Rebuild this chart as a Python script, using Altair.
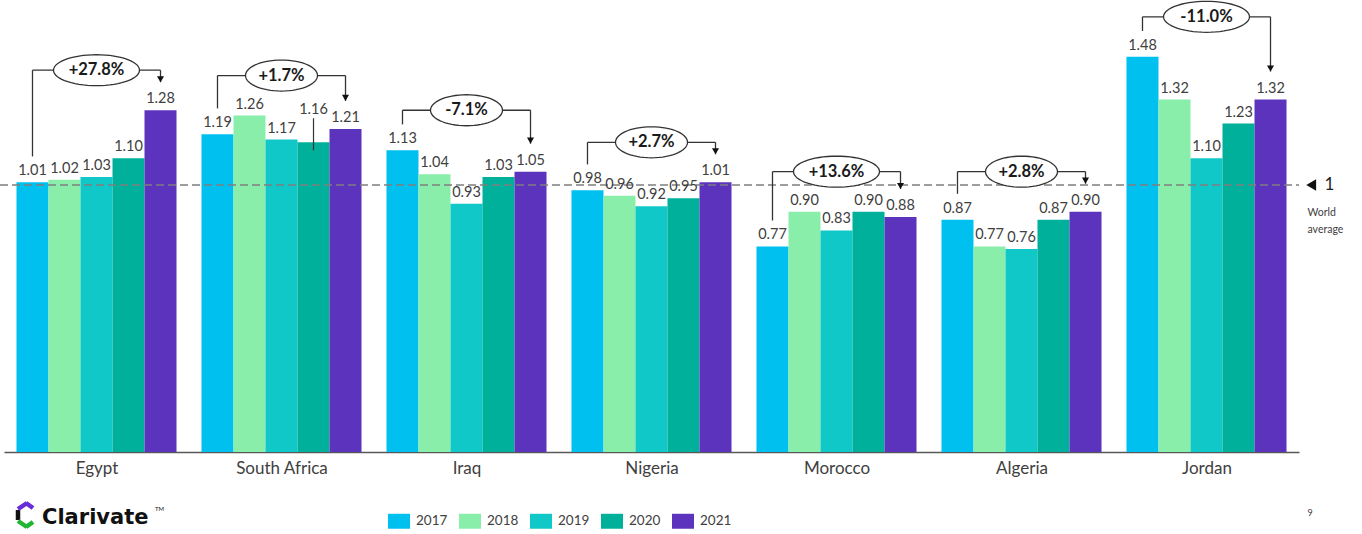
import math
import altair as alt
import pandas as pd

# ---------------- data ----------------
countries = ["Egypt", "South Africa", "Iraq", "Nigeria", "Morocco", "Algeria", "Jordan"]
years = ["2017", "2018", "2019", "2020", "2021"]
v2017 = [1.01, 1.19, 1.13, 0.98, 0.77, 0.87, 1.48]
v2018 = [1.02, 1.26, 1.04, 0.96, 0.90, 0.77, 1.32]
v2019 = [1.03, 1.17, 0.93, 0.92, 0.83, 0.76, 1.10]
v2020 = [1.10, 1.16, 1.03, 0.95, 0.90, 0.87, 1.23]
v2021 = [1.28, 1.21, 1.05, 1.01, 0.88, 0.90, 1.32]
changes = ["+27.8%", "+1.7%", "-7.1%", "+2.7%", "+13.6%", "+2.8%", "-11.0%"]
world_average = 1.0
colors = ["#00C0F0", "#88EEAA", "#10C8C8", "#00B09A", "#5C33BD"]

series = [v2017, v2018, v2019, v2020, v2021]
FONT = "Lato"
TXT = "#404040"
LINE = "#333333"
BAR = 0.173  # width of one bar in group units

# label raised with a leader line (South Africa 2020)
raised = {("South Africa", "2020"): 0.08}

rows = []
for ci, c in enumerate(countries):
    for yj, y in enumerate(years):
        v = series[yj][ci]
        xc = ci + (yj - 2) * BAR
        rows.append(dict(country=c, year=y, value=v, xc=xc,
                         x1=xc - BAR / 2, x2=xc + BAR / 2,
                         label=f"{v:.2f}",
                         ly=v + raised.get((c, y), 0.0),
                         raised=(c, y) in raised))
bars_df = pd.DataFrame(rows)

def ellipse_path(w, h, n=60):
    r = h / w
    pts = []
    for k in range(n):
        t = 2 * math.pi * k / n
        pts.append(f"{math.cos(t):.4f},{r * math.sin(t):.4f}")
    return "M" + "L".join(pts) + "Z"

brk = []
for ci, c in enumerate(countries):
    vals = [s[ci] for s in series]
    level = max(vals) + 0.15
    w = 14 * len(changes[ci]) + 2
    brk.append(dict(country=c, xl=ci - 2 * BAR, xr=ci + 2 * BAR, xm=ci,
                    level=level, bot=vals[0] + 0.097, tip=vals[-1] + 0.105,
                    text=changes[ci], path=ellipse_path(w, 31), size=w * w))
brk_df = pd.DataFrame(brk)

W, H = 1295, 452
xs = alt.Scale(domain=[-0.5, 6.5], nice=False, zero=False)
ys = alt.Scale(domain=[0, 452 / 267], nice=False, zero=False)

label_expr = "[" + ",".join(f"'{c}'" for c in countries) + "][datum.value]"
xaxis = alt.Axis(values=list(range(len(countries))), labelExpr=label_expr,
                 title=None, grid=False, ticks=False, labelFont=FONT,
                 labelFontSize=17, labelColor=TXT, labelPadding=8,
                 domainColor="#595959", domainWidth=1.5, labelFlush=False,
                 labelOverlap=False)


def X(field):
    return alt.X(field, scale=xs, axis=xaxis)


def Y(field):
    return alt.Y(field, scale=ys, axis=None)


base = alt.Chart(bars_df)

bars = base.mark_bar(stroke=None).encode(
    x=X("x1:Q"),
    x2="x2:Q",
    y=Y("value:Q"),
    y2=alt.datum(0),
    color=alt.Color("year:N", scale=alt.Scale(domain=years, range=colors),
                    legend=alt.Legend(orient="none", legendX=384, legendY=510,
                                      direction="horizontal", columns=5, title=None,
                                      symbolType="M-1,-0.68H1V0.68H-1Z", symbolSize=484,
                                      symbolStrokeWidth=0, symbolOpacity=1,
                                      labelFont=FONT, labelFontSize=13.5, labelColor=TXT,
                                      labelOffset=6, columnPadding=11, padding=0)),
)

labels = base.mark_text(font=FONT, fontSize=14.5, color=TXT, baseline="alphabetic", dy=-7).encode(
    x=X("xc:Q"),
    y=Y("ly:Q"),
    text="label:N",
)

leader_df = bars_df[bars_df["raised"]].assign(lt=lambda d: d["value"] + 0.09,
                                              lb=lambda d: d["value"] - 0.03)
leader = alt.Chart(leader_df).mark_rule(color=LINE, strokeWidth=1.2).encode(
    x=X("xc:Q"),
    y=Y("lt:Q"),
    y2="lb:Q",
)

avg_df = pd.DataFrame({"y": [world_average], "xa": [-0.5 - 4 / 185], "xb": [6.5]})
avg_line = alt.Chart(avg_df).mark_rule(color="#7F7F7F", strokeWidth=1.5, strokeDash=[8, 4]).encode(
    x=X("xa:Q"), x2="xb:Q",
    y=Y("y:Q"),
)
avg_tri = alt.Chart(avg_df).mark_point(shape="triangle-left", filled=True, color="#111111",
                                       size=130, opacity=1).encode(
    x=X("xm:Q"),
    y=Y("y:Q"),
).transform_calculate(xm="6.566")
avg_one = alt.Chart(avg_df).mark_text(font=FONT, fontSize=17, color="#222222", align="left",
                                      baseline="middle").encode(
    x=X("xm:Q"),
    y=Y("y:Q"),
    text=alt.value("1"),
).transform_calculate(xm="6.638")
avg_txt_df = pd.DataFrame({"t": ["World", "average"], "yy": [0.895, 0.831], "xm": [6.546, 6.546]})
avg_txt = alt.Chart(avg_txt_df).mark_text(font=FONT, fontSize=10.5, color=TXT, align="left",
                                          baseline="middle").encode(
    x=X("xm:Q"),
    y=Y("yy:Q"),
    text="t:N",
)

bb = alt.Chart(brk_df)
h_rule = bb.mark_rule(color=LINE, strokeWidth=1.3).encode(
    x=X("xl:Q"), x2="xr:Q",
    y=Y("level:Q"),
)
l_rule = bb.mark_rule(color=LINE, strokeWidth=1.3).encode(
    x=X("xl:Q"),
    y=Y("bot:Q"), y2="level:Q",
)
r_rule = bb.mark_rule(color=LINE, strokeWidth=1.3).encode(
    x=X("xr:Q"),
    y=Y("level:Q"), y2="tip:Q",
)
arrow = bb.mark_point(shape="triangle-down", filled=True, color="#111111", size=50,
                      opacity=1, yOffset=-3).encode(
    x=X("xr:Q"),
    y=Y("tip:Q"),
)
ellipse = bb.mark_point(fill="white", stroke=LINE, strokeWidth=1.3, opacity=1,
                        fillOpacity=1).encode(
    x=X("xm:Q"),
    y=Y("level:Q"),
    shape=alt.Shape("path:N", scale=None),
    size=alt.Size("size:Q", scale=None),
)
pct = bb.mark_text(font=FONT, fontSize=16.5, fontWeight="bold", color="#1a1a1a",
                   baseline="middle").encode(
    x=X("xm:Q"),
    y=Y("level:Q"),
    text="text:N",
)

# decorations: logo and page number (pixel positions)
deco_df = pd.DataFrame({"k": [0]})
logo_txt = alt.Chart(deco_df).mark_text(font="DejaVu Sans", fontSize=21, fontWeight="bold",
                                        color="#111111", align="left",
                                        baseline="alphabetic").encode(
    x=alt.value(38), y=alt.value(524), text=alt.value("Clarivate"))
logo_tm = alt.Chart(deco_df).mark_text(font=FONT, fontSize=6, color="#111111",
                                       align="left", baseline="alphabetic").encode(
    x=alt.value(151), y=alt.value(511), text=alt.value("TM"))
logo_black = alt.Chart(deco_df).mark_rule(color="#111111", strokeWidth=4.5).encode(
    x=alt.value(14), y=alt.value(510), y2=alt.value(520))
logo_purple = alt.Chart(deco_df).mark_rule(color="#6A2BD8", strokeWidth=4.5).encode(
    x=alt.value(14), y=alt.value(509), x2=alt.value(23), y2=alt.value(503))
logo_purple2 = alt.Chart(deco_df).mark_rule(color="#6A2BD8", strokeWidth=4.5).encode(
    x=alt.value(22), y=alt.value(503), x2=alt.value(29), y2=alt.value(508))
logo_green = alt.Chart(deco_df).mark_rule(color="#22B534", strokeWidth=4.5).encode(
    x=alt.value(14), y=alt.value(521), x2=alt.value(23), y2=alt.value(527))
logo_green2 = alt.Chart(deco_df).mark_rule(color="#22B534", strokeWidth=4.5).encode(
    x=alt.value(22), y=alt.value(527), x2=alt.value(29), y2=alt.value(522))
page = alt.Chart(deco_df).mark_text(font=FONT, fontSize=9, color=TXT).encode(
    x=alt.value(1306), y=alt.value(513), text=alt.value("9"))

chart = alt.layer(
    bars, avg_line, labels, leader, avg_tri, avg_one, avg_txt,
    h_rule, l_rule, r_rule, arrow, ellipse, pct,
    logo_black, logo_purple, logo_purple2, logo_green, logo_green2, logo_txt, logo_tm, page,
).properties(
    width=W, height=H,
    padding={"left": 4, "top": 0, "right": 63, "bottom": 82},
    autosize=alt.AutoSizeParams(type="none"),
    background="white",
).configure_view(stroke=None)

chart.save("out.html", embed_options={"renderer": "svg", "actions": False})
